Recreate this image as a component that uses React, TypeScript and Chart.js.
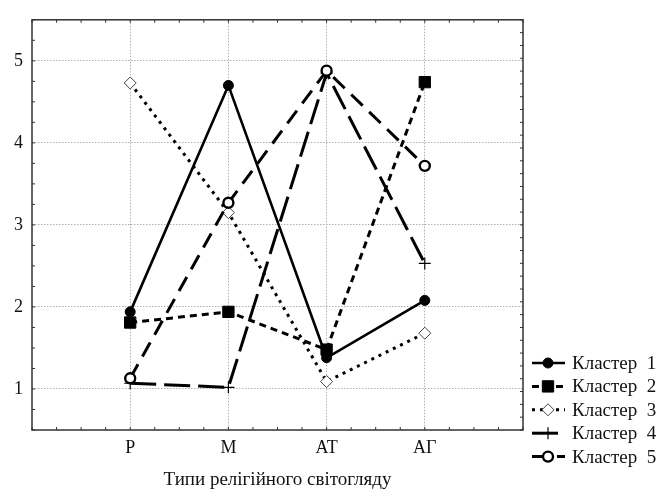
import React, { useEffect, useRef } from 'react';
import { Chart, registerables } from 'chart.js';
import { drawPoint } from 'chart.js/helpers';

Chart.register(...registerables);

const categories = ['Р', 'М', 'АТ', 'АГ'];
const categoryPositions = [1, 2, 3, 4];
const yTicks = [1, 2, 3, 4, 5];
const seriesNames = ['Кластер  1', 'Кластер  2', 'Кластер  3', 'Кластер  4', 'Кластер  5'];
const cluster1 = [1.94, 4.7, 1.38, 2.08];
const cluster2 = [1.81, 1.94, 1.48, 4.74];
const cluster3 = [4.73, 3.15, 1.09, 1.68];
const cluster4 = [1.07, 1.02, 4.85, 2.53];
const cluster5 = [1.13, 3.27, 4.88, 3.72];
const xTitle = 'Типи релігійного світогляду';

const FONT = '"Liberation Serif", "Times New Roman", serif';

const frameAndLegend = {
  id: 'frameAndLegend',
  afterDatasetsDraw(chart: any) {
    const { ctx, chartArea: a, scales } = chart;
    const x = scales.x;
    const y = scales.y;
    ctx.save();
    ctx.strokeStyle = '#333';
    ctx.lineWidth = 1;
    ctx.setLineDash([]);
    ctx.beginPath();
    for (let v = 0; v <= 5.0001; v += 0.25) {
      const px = x.getPixelForValue(v);
      ctx.moveTo(px, a.top);
      ctx.lineTo(px, a.top + 3);
      ctx.moveTo(px, a.bottom);
      ctx.lineTo(px, a.bottom - 3);
    }
    for (let v = 0.5; v <= 5.5001; v += 0.25) {
      const py = y.getPixelForValue(v);
      ctx.moveTo(a.left, py);
      ctx.lineTo(a.left + 3, py);
    }
    for (let k = 0; k <= 32; k++) {
      const py = y.getPixelForValue(0.5 + (k * 5) / 32);
      ctx.moveTo(a.right, py);
      ctx.lineTo(a.right - 3, py);
    }
    ctx.stroke();
    ctx.lineWidth = 1.5;
    ctx.strokeRect(a.left, a.top, a.right - a.left, a.bottom - a.top);
    ctx.restore();
  },
  afterDraw(chart: any) {
    const { ctx, chartArea: a } = chart;
    ctx.save();
    chart.data.datasets.forEach((ds: any, i: number) => {
      const yy = a.bottom - 67 + i * 23.4;
      ctx.strokeStyle = ds.borderColor;
      ctx.lineWidth = ds.borderWidth;
      ctx.setLineDash(ds.borderDash || []);
      ctx.beginPath();
      ctx.moveTo(a.right + 9, yy);
      ctx.lineTo(a.right + 42, yy);
      ctx.stroke();
      ctx.setLineDash([]);
      ctx.fillStyle = ds.pointBackgroundColor;
      ctx.strokeStyle = ds.pointBorderColor;
      ctx.lineWidth = ds.pointBorderWidth;
      drawPoint(ctx, { pointStyle: ds.pointStyle, radius: ds.pointRadius, borderWidth: ds.pointBorderWidth, rotation: 0 } as any, a.right + 25, yy);
      ctx.fillStyle = '#111';
      ctx.font = `19px ${FONT}`;
      ctx.textBaseline = 'middle';
      ctx.textAlign = 'left';
      ctx.fillText(seriesNames[i], a.right + 49, yy + 1);
    });
    ctx.restore();
  },
};

function toPoints(values: number[]) {
  return values.map((v, i) => ({ x: categoryPositions[i], y: v }));
}

export default function App() {
  const ref = useRef<HTMLCanvasElement | null>(null);
  useEffect(() => {
    if (!ref.current) return;
    const common = { borderColor: '#000', pointBorderColor: '#000', tension: 0, fill: false };
    const chart = new Chart(ref.current, {
      type: 'line',
      data: {
        datasets: [
          { ...common, label: seriesNames[0], data: toPoints(cluster1), borderWidth: 2.6, borderDash: [], pointStyle: 'circle', pointRadius: 5, pointBackgroundColor: '#000', pointBorderWidth: 1, order: 5 },
          { ...common, label: seriesNames[1], data: toPoints(cluster2), borderWidth: 3, borderDash: [7, 5], pointStyle: 'rect', pointRadius: 8, pointBackgroundColor: '#000', pointBorderWidth: 1, order: 4 },
          { ...common, label: seriesNames[2], data: toPoints(cluster3), borderWidth: 3, borderDash: [3, 5], pointStyle: 'rectRot', pointRadius: 6, pointBackgroundColor: '#fff', pointBorderColor: '#444', pointBorderWidth: 1, order: 3 },
          { ...common, label: seriesNames[3], data: toPoints(cluster4), borderWidth: 3, borderDash: [26, 8], pointStyle: 'cross', pointRadius: 6, pointBackgroundColor: '#000', pointBorderWidth: 1.2, order: 2 },
          { ...common, label: seriesNames[4], data: toPoints(cluster5), borderWidth: 3, borderDash: [16, 9], pointStyle: 'circle', pointRadius: 5, pointBackgroundColor: '#fff', pointBorderWidth: 2.4, order: 1 },
        ] as any,
      },
      options: {
        animation: false,
        responsive: true,
        maintainAspectRatio: false,
        layout: { padding: { top: 16, right: 138, left: 0, bottom: 0 } },
        plugins: { legend: { display: false }, tooltip: { enabled: false } },
        scales: {
          x: {
            type: 'linear',
            min: 0,
            max: 5,
            afterBuildTicks: (s: any) => { s.ticks = categoryPositions.map((v) => ({ value: v })); },
            afterFit: (s: any) => { s.height = 61; },
            ticks: {
              callback: (v: any) => categories[categoryPositions.indexOf(Number(v))] ?? '',
              font: { family: FONT, size: 18 },
              color: '#111',
              padding: 7,
              autoSkip: false,
              maxRotation: 0,
            },
            grid: { color: '#b0b0b0', lineWidth: 1, drawTicks: false },
            border: { display: false, dash: [1.5, 1.5] },
            title: { display: true, text: xTitle, font: { family: FONT, size: 19 }, color: '#111', padding: { top: 0, bottom: 0 } },
          },
          y: {
            type: 'linear',
            min: 0.5,
            max: 5.5,
            afterBuildTicks: (s: any) => { s.ticks = yTicks.map((v) => ({ value: v })); },
            afterFit: (s: any) => { s.width = 32; },
            ticks: { font: { family: FONT, size: 18 }, color: '#111', padding: 9 },
            grid: { color: '#b0b0b0', lineWidth: 1, drawTicks: false },
            border: { display: false, dash: [1.5, 1.5] },
          },
        },
      } as any,
      plugins: [frameAndLegend],
    });
    return () => chart.destroy();
  }, []);
  return (
    <div style={{ position: 'fixed', left: 0, top: 0, width: 661, height: 491, background: '#fff' }}>
      <canvas ref={ref} />
    </div>
  );
}
